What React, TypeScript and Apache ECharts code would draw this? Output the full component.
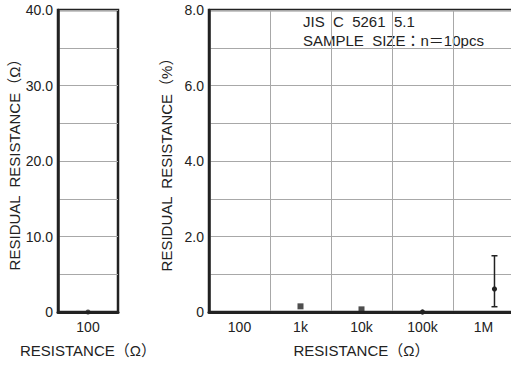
import React, { useEffect, useRef } from "react";
import * as echarts from "echarts";

const leftCategories = ["100"];
const leftValues = [0];

const rightCategories = ["100", "1k", "10k", "100k", "1M"];
const squareValues: (number | null)[] = [null, 0.15, 0.07, null, null];
const circleValues: (number | null)[] = [null, null, null, 0, 0.61];
const errLow: (number | null)[] = [null, null, null, null, 0.14];
const errHigh: (number | null)[] = [null, null, null, null, 1.49];

const leftYTicks = [0, 10, 20, 30, 40];
const rightYTicks = [0, 2, 4, 6, 8];

const annotation1 = "JIS  C  5261  5.1";
const annotation2 = "SAMPLE  SIZE：n＝10pcs";
const yTitleLeft = "RESIDUAL  RESISTANCE（Ω）";
const yTitleRight = "RESIDUAL  RESISTANCE（%）";
const xTitle = "RESISTANCE（Ω）";

const FONT = "'Liberation Sans', Arial, 'Noto Sans CJK JP', sans-serif";
const INK = "#222";

export default function App() {
  const ref = useRef<HTMLDivElement>(null);
  useEffect(() => {
    if (!ref.current) return;
    const chart = echarts.init(ref.current, undefined, { renderer: "svg" });
    const yLabel = (ticks: number[]) => (v: number) =>
      ticks.includes(v) ? (v === 0 ? "0" : v.toFixed(1)) : "";
    const axisLabelStyle = { color: INK, fontSize: 14, fontFamily: FONT };
    const nameStyle = { color: INK, fontSize: 15, fontFamily: FONT };
    const splitStyle = { lineStyle: { color: "#a8a8a8", width: 1 } };

    const oneMOffset = (i: number) => (i === 4 ? 0.18 : 0);

    chart.setOption({
      animation: false,
      textStyle: { fontFamily: FONT },
      grid: [
        { left: 58, width: 60, top: 10, height: 302, show: true, borderColor: INK, borderWidth: 2.5, backgroundColor: "transparent" },
        { left: 209, width: 305, top: 10, height: 302, show: true, borderColor: INK, borderWidth: 2.5, backgroundColor: "transparent" },
      ],
      xAxis: [
        {
          gridIndex: 0, type: "category", data: leftCategories, boundaryGap: true,
          axisLine: { lineStyle: { color: INK, width: 3 } }, axisTick: { show: false },
          axisLabel: { ...axisLabelStyle, margin: 8 }, splitLine: { show: false },
          name: xTitle, nameLocation: "middle", nameGap: 31, nameTextStyle: nameStyle,
        },
        {
          gridIndex: 1, type: "category", data: rightCategories, boundaryGap: true,
          axisLine: { lineStyle: { color: INK, width: 3 } }, axisTick: { show: false },
          axisLabel: { ...axisLabelStyle, margin: 8 },
          splitLine: { show: true, interval: 0, ...splitStyle },
          name: xTitle, nameLocation: "middle", nameGap: 31, nameTextStyle: nameStyle,
        },
      ],
      yAxis: [
        {
          gridIndex: 0, type: "value", min: 0, max: 40, interval: 5,
          axisLine: { show: true, lineStyle: { color: INK, width: 2.5 } }, axisTick: { show: false },
          axisLabel: { ...axisLabelStyle, margin: 5, formatter: yLabel(leftYTicks) },
          splitLine: { show: true, ...splitStyle },
          name: yTitleLeft, nameLocation: "middle", nameRotate: 90, nameGap: 31, nameTextStyle: nameStyle,
        },
        {
          gridIndex: 1, type: "value", min: 0, max: 8, interval: 1,
          axisLine: { show: true, lineStyle: { color: INK, width: 2.5 } }, axisTick: { show: false },
          axisLabel: { ...axisLabelStyle, margin: 5, formatter: yLabel(rightYTicks) },
          splitLine: { show: true, ...splitStyle },
          name: yTitleRight, nameLocation: "middle", nameRotate: 90, nameGap: 28, nameTextStyle: nameStyle,
        },
      ],
      series: [
        {
          type: "scatter", xAxisIndex: 0, yAxisIndex: 0, data: leftValues,
          symbol: "circle", symbolSize: 5, itemStyle: { color: INK }, z: 10,
        },
        {
          type: "scatter", xAxisIndex: 1, yAxisIndex: 1, data: squareValues,
          symbol: "rect", symbolSize: 6, itemStyle: { color: INK }, z: 10,
        },
        {
          type: "custom", xAxisIndex: 1, yAxisIndex: 1, z: 9,
          data: rightCategories.map((c, i) => [i, circleValues[i], errLow[i], errHigh[i]]),
          renderItem: (params: any, api: any) => {
            const i = api.value(0);
            const v = circleValues[i];
            if (v == null) return null;
            const band = api.size([1, 0])[0];
            const dx = band * oneMOffset(i);
            const p = api.coord([i, v]);
            const x = p[0] + dx;
            const children: any[] = [];
            const lo = errLow[i];
            const hi = errHigh[i];
            if (lo != null && hi != null) {
              const pl = api.coord([i, lo]);
              const ph = api.coord([i, hi]);
              const st = { stroke: INK, lineWidth: 1.5 };
              children.push({ type: "line", shape: { x1: x, y1: pl[1], x2: x, y2: ph[1] }, style: st });
              children.push({ type: "line", shape: { x1: x - 3, y1: pl[1], x2: x + 3, y2: pl[1] }, style: st });
              children.push({ type: "line", shape: { x1: x - 3, y1: ph[1], x2: x + 3, y2: ph[1] }, style: st });
            }
            children.push({ type: "circle", shape: { cx: x, cy: p[1], r: 2.6 }, style: { fill: INK } });
            return { type: "group", children };
          },
        },
      ],
      graphic: [
        { type: "text", left: 303, top: 14, style: { text: annotation1, fill: INK, font: `15px ${FONT}` } },
        { type: "text", left: 303, top: 33, style: { text: annotation2, fill: INK, font: `15px ${FONT}` } },
      ],
    });
    return () => chart.dispose();
  }, []);
  return (
    <div
      ref={ref}
      style={{ position: "fixed", left: 0, top: 0, width: 520, height: 365, background: "#fff" }}
    />
  );
}
